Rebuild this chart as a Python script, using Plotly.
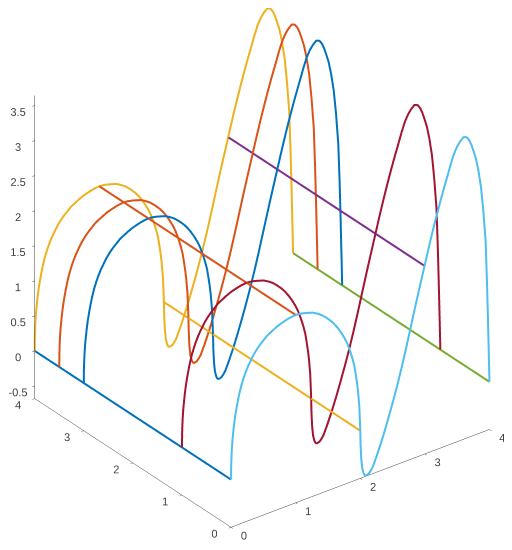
"""
3D ridge curves: one profile repeated at several depths, joined by cross lines
"""
import plotly.graph_objects as go

# profile (position along the right axis, height)
profile_b = [0, 0.002, 0.005, 0.01, 0.02, 0.03, 0.045, 0.06, 0.08, 0.108, 0.13, 0.16, 0.19, 0.22, 0.26, 0.31,
             0.35, 0.4, 0.45, 0.5, 0.56, 0.62, 0.68, 0.75, 0.82, 0.88, 0.94, 1.0, 1.06, 1.13, 1.2, 1.265,
             1.33, 1.4, 1.47, 1.55, 1.6, 1.65, 1.7, 1.755, 1.8, 1.84, 1.88, 1.91, 1.93, 1.95, 1.965, 1.985,
             1.995, 2.0, 2.005, 2.015, 2.03, 2.05, 2.07, 2.09, 2.13, 2.16, 2.19, 2.25, 2.32, 2.38, 2.45,
             2.52, 2.58, 2.65, 2.71, 2.77, 2.83, 2.88, 2.94, 3.0, 3.06, 3.12, 3.18, 3.24, 3.3, 3.36, 3.4,
             3.45, 3.5, 3.55, 3.6, 3.65, 3.69, 3.72, 3.75, 3.79, 3.83, 3.87, 3.905, 3.94, 3.96, 3.976,
             3.985, 3.992, 4.0]
profile_z = [0, 0.2, 0.29, 0.4, 0.54, 0.63, 0.76, 0.86, 0.97, 1.1, 1.19, 1.29, 1.37, 1.44, 1.52, 1.6,
             1.66, 1.72, 1.77, 1.81, 1.86, 1.89, 1.92, 1.95, 1.97, 1.985, 1.995, 2.0, 1.995, 1.98, 1.96, 1.94,
             1.905, 1.86, 1.8, 1.72, 1.66, 1.59, 1.51, 1.41, 1.31, 1.2, 1.07, 0.95, 0.83, 0.7, 0.58, 0.36,
             0.13, 0, -0.2, -0.4, -0.54, -0.62, -0.66, -0.67, -0.66, -0.63, -0.59, -0.46, -0.29, -0.13, 0.07,
             0.28, 0.47, 0.71, 0.93, 1.16, 1.39, 1.58, 1.8, 2.02, 2.24, 2.45, 2.65, 2.84, 3.02, 3.19, 3.31,
             3.44, 3.53, 3.59, 3.63, 3.61, 3.55, 3.48, 3.39, 3.26, 3.07, 2.82, 2.48, 2.04, 1.5, 0.95,
             0.6, 0.33, 0]

curve_depths = [4, 3.5, 3, 1, 0]
curve_colors = ['#EDB120', '#D95319', '#0072BD', '#A2142F', '#4DBEEE']

cross_b = [0, 1, 2, 3, 4]
cross_z = [0, 2, 0, 2, 0]
cross_colors = ['#0072BD', '#D95319', '#EDB120', '#7E2F8E', '#77AC30']

xy_ticks = [0, 1, 2, 3, 4]
z_ticks = [-0.5, 0, 0.5, 1, 1.5, 2, 2.5, 3, 3.5]
z_labels = ['-0.5', '0', '0.5', '1', '1.5', '2', '2.5', '3', '3.5']

fig = go.Figure()

for b, z, color in zip(cross_b, cross_z, cross_colors):
    fig.add_trace(go.Scatter3d(x=[b, b], y=[0, 4], z=[z, z], mode='lines',
                               line=dict(color=color, width=4), showlegend=False))

for depth, color in zip(curve_depths, curve_colors):
    fig.add_trace(go.Scatter3d(x=profile_b, y=[depth] * len(profile_b), z=profile_z, mode='lines',
                               line=dict(color=color, width=4), showlegend=False))

axis_style = dict(showgrid=False, showbackground=False, zeroline=False, showline=True,
                  linecolor='#404040', linewidth=1, ticks='outside', ticklen=3, tickcolor='#404040',
                  tickangle=0, tickfont=dict(family='Liberation Sans', size=11.5, color='#404040'),
                  title=dict(text=''), showspikes=False)

fig.update_layout(
    width=512, height=550,
    margin=dict(l=0, r=0, t=0, b=0),
    paper_bgcolor='white',
    showlegend=False,
    scene=dict(
        xaxis=dict(range=[0, 4], tickvals=xy_ticks, **axis_style),
        yaxis=dict(range=[0, 4], tickvals=xy_ticks, **axis_style),
        zaxis=dict(range=[-0.68, 3.64], tickvals=z_ticks, ticktext=z_labels, **axis_style),
        aspectmode='manual',
        aspectratio=dict(x=1.18, y=1.18, z=1.27),
        camera=dict(
            projection=dict(type='orthographic'),
            up=dict(x=0, y=0, z=1),
            center=dict(x=0.005, y=-0.005, z=-0.085),
            eye=dict(x=-1.04, y=-1.38, z=0.907),
        ),
    ),
)

fig.write_html("out.html")
